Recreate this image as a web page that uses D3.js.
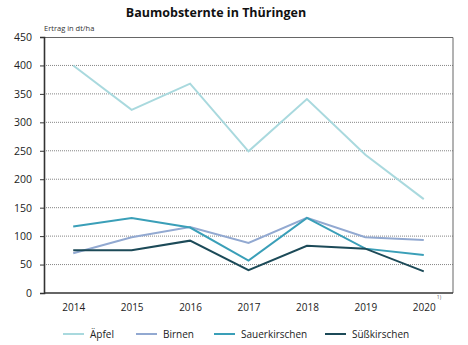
<!DOCTYPE html>
<html>
<head>
<meta charset="utf-8">
<script src="https://cdn.jsdelivr.net/npm/d3@7"></script>
<style>
  body { margin: 0; background: #fff; }
  svg { display: block; font-family: "Open Sans", sans-serif; }
</style>
</head>
<body>
<div id="chart"></div>
<script>
// Erträge in dt/ha
const years = ['2014', '2015', '2016', '2017', '2018', '2019', '2020']
const aepfel = [400, 322, 368, 249, 341, 243, 165]
const birnen = [70, 98, 116, 88, 132, 98, 93]
const sauerkirschen = [117, 132, 115, 57, 132, 78, 67]
const suesskirschen = [75, 75, 92, 40, 83, 78, 38]
const yTicks = [0, 50, 100, 150, 200, 250, 300, 350, 400, 450]

const series = [
  { name: 'Äpfel', values: aepfel, color: '#a9d9de' },
  { name: 'Birnen', values: birnen, color: '#92a9d1' },
  { name: 'Sauerkirschen', values: sauerkirschen, color: '#3a9fb8' },
  { name: 'Süßkirschen', values: suesskirschen, color: '#1c4a58' }
]

const WIDTH = 468
const HEIGHT = 345
const margin = { top: 37, right: 15, bottom: 52, left: 44 }
const innerW = WIDTH - margin.left - margin.right
const innerH = HEIGHT - margin.top - margin.bottom

const svg = d3.select('#chart')
  .append('svg')
  .attr('width', WIDTH)
  .attr('height', HEIGHT)

svg.append('text')
  .attr('x', 216)
  .attr('y', 17)
  .attr('text-anchor', 'middle')
  .attr('font-size', 12.5)
  .attr('font-weight', 'bold')
  .attr('fill', '#111')
  .text('Baumobsternte in Thüringen')

const g = svg.append('g')
  .attr('transform', `translate(${margin.left}, ${margin.top})`)

const x = d3.scalePoint()
  .domain(years)
  .range([0, innerW])
  .padding(0.5)

const y = d3.scaleLinear()
  .domain([0, 450])
  .range([innerH, 0])

// dotted grid
g.append('g')
  .selectAll('line')
  .data(yTicks.filter(d => d > 0 && d < 450))
  .join('line')
  .attr('x1', 0)
  .attr('x2', innerW)
  .attr('y1', d => y(d))
  .attr('y2', d => y(d))
  .attr('stroke', '#666')
  .attr('stroke-width', 0.8)
  .attr('stroke-dasharray', '1,1')

// frame top / right
g.append('path')
  .attr('d', `M0,0.5H${innerW}V${innerH}`)
  .attr('fill', 'none')
  .attr('stroke', '#666')
  .attr('stroke-width', 1)

const yAxis = g.append('g')
  .call(d3.axisLeft(y).tickValues(yTicks).tickSize(4).tickPadding(8))
yAxis.select('.domain').attr('stroke', '#333').attr('stroke-width', 1.6)
yAxis.selectAll('.tick line').attr('stroke', '#333')
yAxis.selectAll('text').attr('font-size', 10.5).attr('fill', '#222')
  .attr('font-family', '"Open Sans", sans-serif')

const xAxis = g.append('g')
  .attr('transform', `translate(0, ${innerH})`)
  .call(d3.axisBottom(x).tickSize(0).tickPadding(11))
xAxis.select('.domain').attr('stroke', '#333').attr('stroke-width', 1.4)
  .attr('d', `M0,0H${innerW}`)
xAxis.selectAll('text').attr('font-size', 10).attr('fill', '#222')
  .attr('font-family', '"Open Sans", sans-serif')

g.append('text')
  .attr('x', 0)
  .attr('y', -6)
  .attr('font-size', 7.5)
  .attr('fill', '#333')
  .text('Ertrag in dt/ha')

// footnote marker at 2020
g.append('text')
  .attr('x', x('2020') + 13)
  .attr('y', innerH + 6)
  .attr('font-size', 5)
  .attr('fill', '#555')
  .text('1)')

const line = d3.line()
  .x((d, i) => x(years[i]))
  .y(d => y(d))

g.append('g')
  .selectAll('path')
  .data(series)
  .join('path')
  .attr('d', d => line(d.values))
  .attr('fill', 'none')
  .attr('stroke', d => d.color)
  .attr('stroke-width', 2)
  .attr('stroke-linejoin', 'miter')

// legend
const legendX = [63, 136, 214, 325]
const legend = svg.append('g')
  .selectAll('g')
  .data(series)
  .join('g')
  .attr('transform', (d, i) => `translate(${legendX[i]}, 334)`)
legend.append('line')
  .attr('x1', 0)
  .attr('x2', 21)
  .attr('stroke', d => d.color)
  .attr('stroke-width', 2)
legend.append('text')
  .attr('x', 27)
  .attr('y', 3.5)
  .attr('font-size', 10)
  .attr('fill', '#222')
  .text(d => d.name)
</script>
</body>
</html>
